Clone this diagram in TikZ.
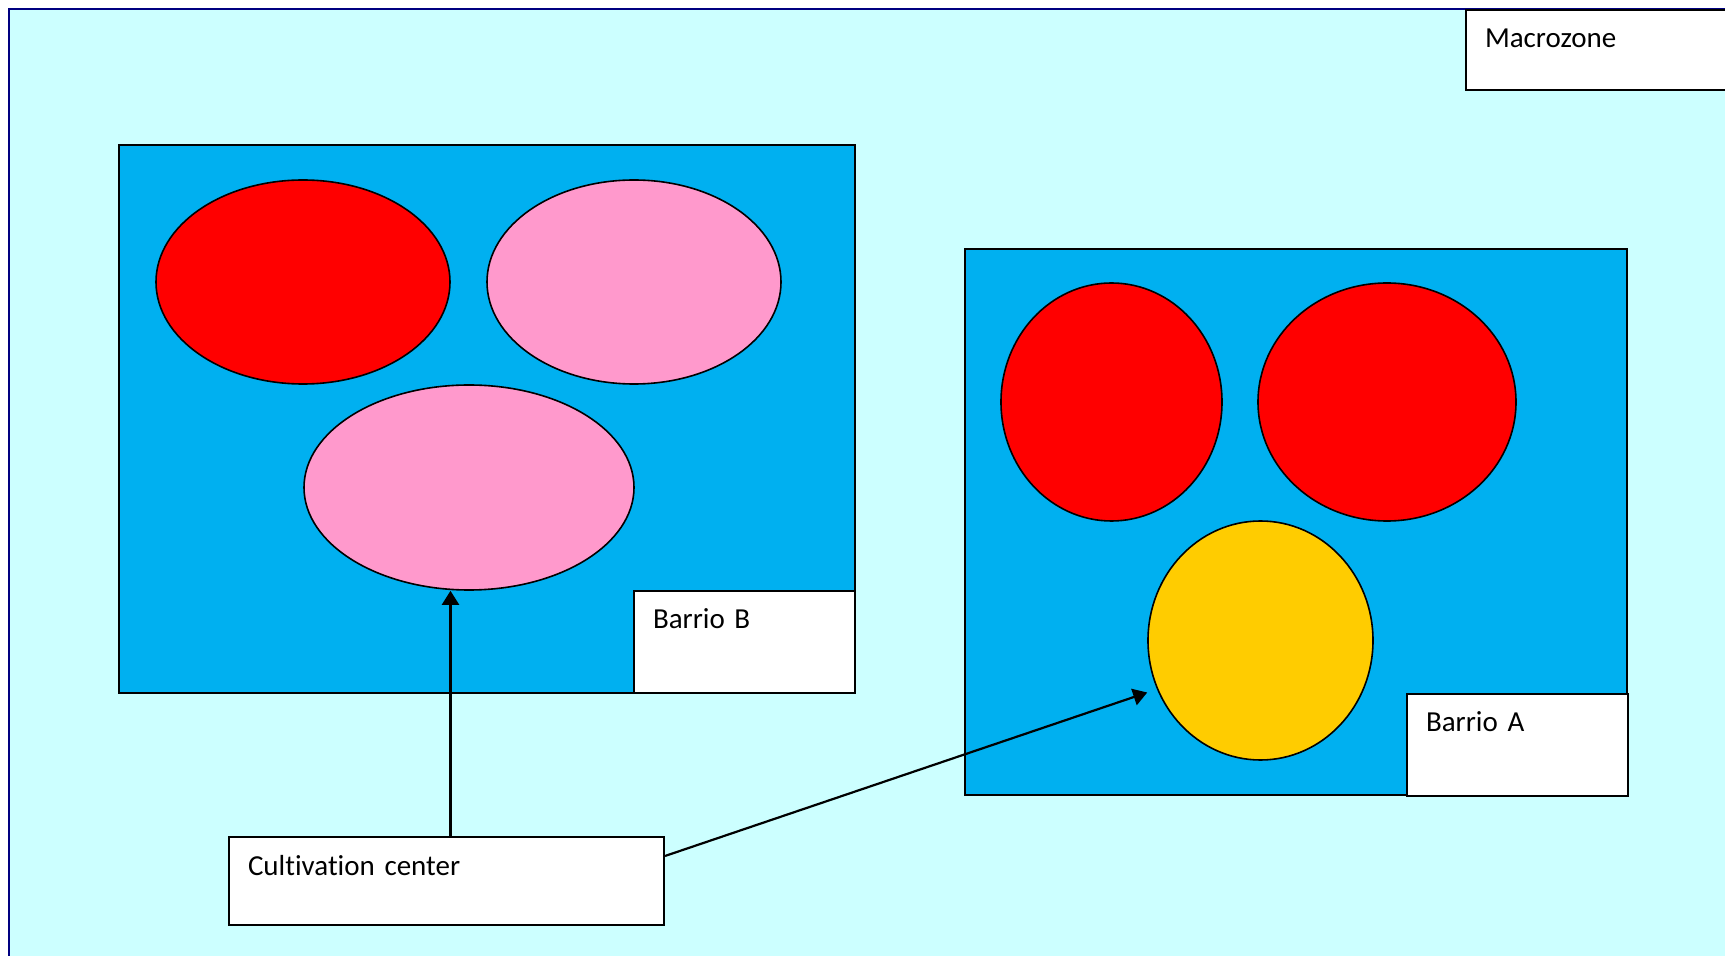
\documentclass[tikz,border=0pt]{standalone}
\usepackage{fontspec}
\setmainfont[Ligatures=NoCommon]{Carlito}
\usetikzlibrary{shapes.geometric,arrows.meta}
\definecolor{macrocyan}{HTML}{CCFFFF}
\definecolor{macronavy}{HTML}{000080}
\definecolor{barrioblue}{HTML}{00B0F0}
\definecolor{plotred}{HTML}{FF0000}
\definecolor{plotpink}{HTML}{FF99CC}
\definecolor{plotyellow}{HTML}{FFCC00}
\tikzstyle{plot}=[ellipse,draw,line width=0.8pt,inner sep=0pt]
\tikzstyle{barrio}=[draw,line width=1pt,fill=barrioblue]
\tikzstyle{tag}=[draw,line width=1pt,fill=white,anchor=north west,inner xsep=9.5pt,inner ysep=0pt,text height=19pt,align=left]
\tikzstyle{link}=[draw,line width=1.1pt,-{Triangle[length=7pt,width=8.5pt]}]

\begin{document}
\begin{tikzpicture}[x=0.5pt,y=-0.5pt,font=\fontsize{14.5}{17}\selectfont]
    \useasboundingbox (0,0) rectangle (1725,956);
    \clip (0,0) rectangle (1725,956);
    \draw[line width=1pt,macronavy,fill=macrocyan] (9,9) rectangle (1760,990);
    \node[tag,text width=121pt,text depth=21pt] (macro) at (1465,9) {Macrozone};

    \path[barrio] (119,145) rectangle (855,693);
    \path[barrio] (965,249) rectangle (1627,795);

    \foreach \pos/\name/\w/\h/\col in {{(303,282)/redB/147/102/plotred},
                                       {(634,282)/pinkB/147/102/plotpink},
                                       {(469,487.5)/pinkC/165/102.5/plotpink},
                                       {(1111.5,402)/redA/110.5/119/plotred},
                                       {(1387,402)/redD/129/119/plotred},
                                       {(1260.5,640.5)/yellowA/112.5/119.5/plotyellow}}
        \node[plot,fill=\col,minimum width=\w pt,minimum height=\h pt] (\name) at \pos {};

    \node[tag,text width=91.5pt,text depth=32pt] (tagB) at (633,590) {Barrio B};
    \node[tag,text width=91.5pt,text depth=32pt] (tagA) at (1406,693) {Barrio A};
    \node[tag,text width=198.5pt,text depth=25pt] (cult) at (228,836) {Cultivation center};

    \draw[link] ([xshift=2pt]cult.north) -- ([xshift=2pt]cult.north |- pinkC.south);
    \draw[link] ([yshift=12.5pt]cult.east) -- ([yshift=-26pt]yellowA.west);
\end{tikzpicture}
\end{document}
